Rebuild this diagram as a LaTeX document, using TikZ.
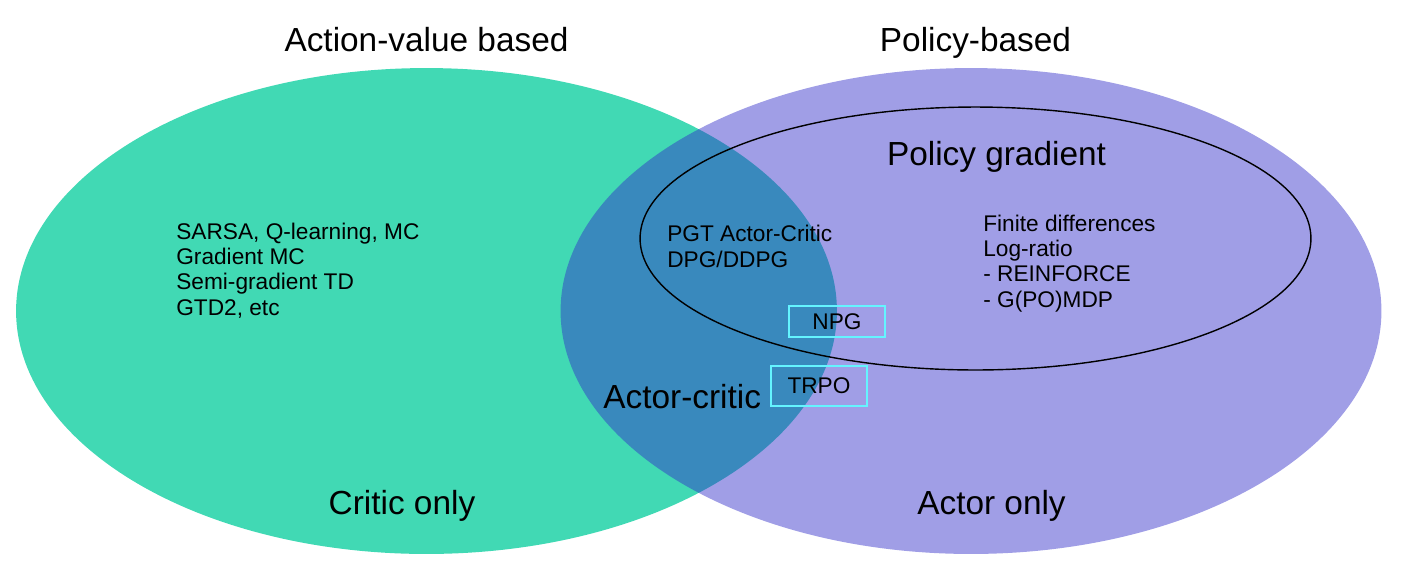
\documentclass[tikz,border=0pt]{standalone}
\usepackage{fontspec}
\setmainfont{Liberation Sans}
\usetikzlibrary{shapes.geometric, positioning}
\definecolor{criticgreen}{RGB}{65,217,180}
\definecolor{actorblue}{RGB}{48,44,200}
\definecolor{boxcyan}{RGB}{100,244,255}

\begin{document}
\begin{tikzpicture}[
    x=0.02cm, y=-0.02cm,
    setnode/.style={ellipse, inner sep=0pt, minimum width=16.42cm, minimum height=9.72cm},
    bigtext/.style={font=\fontsize{19}{23}\selectfont, inner sep=0pt, anchor=base},
    smalltext/.style={font=\fontsize{12.9}{14.4}\selectfont, inner sep=0pt, align=left, anchor=base west},
    algobox/.style={rectangle, draw=boxcyan, line width=1.6pt, minimum width=1.92cm, font=\fontsize{12.9}{14.4}\selectfont}
]
\useasboundingbox (0,0) rectangle (1402,576);

% Sets
\node[setnode, fill=criticgreen] (critic) at (426.5,311) {};
\node[setnode, fill=actorblue, fill opacity=0.46] (actor) at (971,311) {};
\node[ellipse, draw, line width=0.8pt, inner sep=0pt, minimum width=13.42cm, minimum height=5.26cm] (pg) at (975.5,238.5) {};

% Titles
\node[bigtext] (avtitle) at (426.5,51) {Action-value based};
\node[bigtext] (pbtitle) at (975.5,51) {Policy-based};
\node[bigtext] (pgtitle) at (996.5,165) {Policy gradient};
\node[bigtext] (criticonly) at (402,514) {Critic only};
\node[bigtext] (actoronly) at (991.5,514) {Actor only};
\node[bigtext, anchor=base west] (actorcritic) at (603,408) {Actor-critic};

% Methods (anchored at the last line)
\node[smalltext] (valuelist) at (176,315) {SARSA, Q-learning, MC\\Gradient MC\\Semi-gradient TD\\GTD2, etc};
\node[smalltext] (aclist) at (667,267) {PGT Actor-Critic\\DPG/DDPG};
\node[smalltext] (pglist) at (983,307) {Finite differences\\Log-ratio\\- REINFORCE\\- G(PO)MDP};

\node[algobox, minimum height=0.62cm] (npg) at (837,321.5) {NPG};
\node[algobox, minimum height=0.8cm] (trpo) at (819,386) {TRPO};

\end{tikzpicture}
\end{document}
